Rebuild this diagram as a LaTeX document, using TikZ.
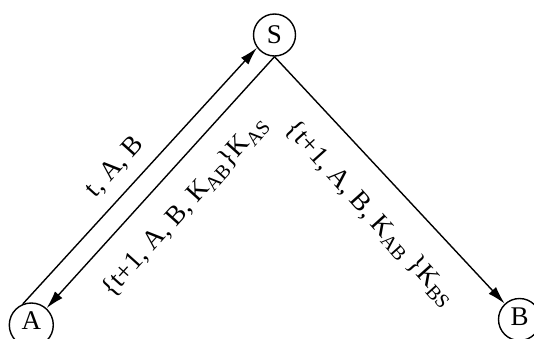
\documentclass[tikz,border=0pt]{standalone}
\usepackage{fontspec}
\setmainfont{Liberation Serif}
\usetikzlibrary{arrows.meta}
\tikzset{
  party/.style={draw, circle, line width=1.4pt, minimum size=42pt, inner sep=0pt},
  letter/.style={font=\fontsize{27}{29}\selectfont, inner sep=0pt},
  msg/.style={line width=1.4pt, -{Latex[length=18pt,width=10pt]}},
  msglabel/.style={font=\fontsize{27}{29}\selectfont, inner sep=0pt}
}
\newcommand{\sub}[1]{\textsubscript{\fontsize{20}{20}\selectfont #1}}
\begin{document}
\begin{tikzpicture}[x=1pt,y=-1pt]
  \useasboundingbox (0,0) rectangle (534,338);
  % the three principals
  \node[party] (S) at (274.5,35) {};
  \node[party, minimum size=44pt] (A) at (31.3,325) {};
  \node[party] (B) at (519.5,319.5) {};
  \node[letter] (Sname) at ([yshift=0.5pt]S.center) {S};
  \node[letter] (Aname) at ([yshift=4pt]A.center) {A};
  \node[letter] (Bname) at ([yshift=3pt]B.center) {B};
  % messages
  \draw[msg] (A.112) -- (S.216);
  \draw[msg] (S.south) -- (A);
  \draw[msg] (S.south) -- (B);
  % message contents
  \node[msglabel, rotate=48] (l1) at (115,167) {t, A, B};
  \node[msglabel, rotate=48] (l2) at (185,207) {\{t+1, A, B, K\sub{AB}\}K\sub{AS}};
  \node[msglabel, rotate=-48] (l3) at (370,214) {\{t+1, A, B, K\sub{AB} \}K\sub{BS}};
\end{tikzpicture}
\end{document}
